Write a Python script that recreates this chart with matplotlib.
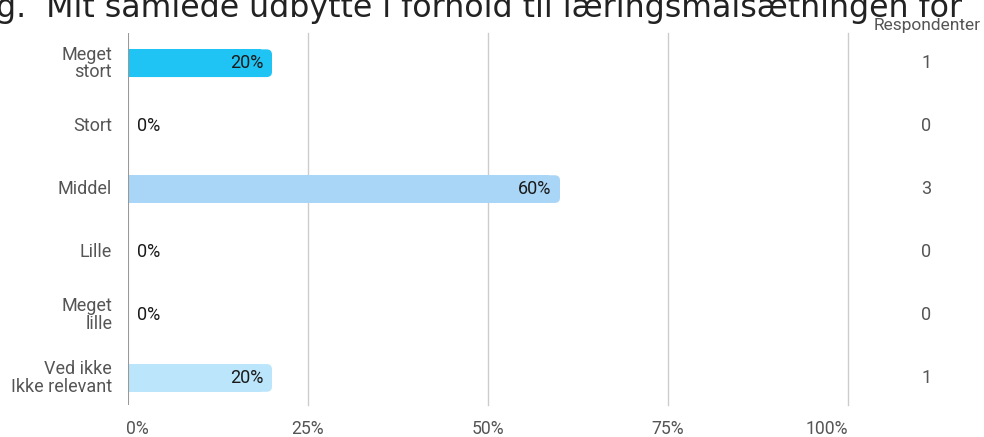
import matplotlib.pyplot as plt
from matplotlib.patches import FancyBboxPatch

categories = ['Meget\nstort', 'Stort', 'Middel', 'Lille', 'Meget\nlille', 'Ved ikke\nIkke relevant']
percent = [20, 0, 60, 0, 0, 20]
respondents = [1, 0, 3, 0, 0, 1]
bar_colors = ['#20c4f4', '#20c4f4', '#a9d5f6', '#a9d5f6', '#a9d5f6', '#bbe5fa']
xticks = [0, 25, 50, 75, 100]
title = 'g.  Mit samlede udbytte i forhold til læringsmålsætningen for'

plt.rcParams['font.family'] = ['Roboto', 'DejaVu Sans']

fig = plt.figure(figsize=(9.84, 4.37), dpi=100)
ax = fig.add_axes([128 / 984, 1 - 405 / 437, 720 / 984, 372 / 437])
ax.set_xlim(0, 100)
ax.set_ylim(5.43, -0.48)

bar_h = 0.44
for i, (p, c) in enumerate(zip(percent, bar_colors)):
    if p > 0:
        # rounded right end + square left part
        rb = FancyBboxPatch((0, i - bar_h / 2), p, bar_h,
                            boxstyle='round,pad=0,rounding_size=0.75',
                            mutation_aspect=0.11, fc=c, ec='none', zorder=2)
        ax.add_patch(rb)
        ax.barh(i, p - 1.5, height=bar_h, left=0, color=c, zorder=2)
        ax.text(p - 1.2, i, f'{p}%', ha='right', va='center', fontsize=13, color='#1a1a1a', zorder=3)
    else:
        ax.text(1.3, i, f'{p}%', ha='left', va='center', fontsize=13, color='#1a1a1a', zorder=3)

for x in xticks[1:]:
    ax.axvline(x, color='#cccccc', lw=1, zorder=1, clip_on=False)
ax.axvline(0, color='#999999', lw=1.5, zorder=4)

for s in ax.spines.values():
    s.set_visible(False)
ax.set_yticks([])
ax.set_xticks([])

# y labels
for i, lab in enumerate(categories):
    ax.text(-2.2, i, lab, ha='right', va='center', fontsize=13, color='#555555',
            linespacing=0.95)

# x labels (Google style alignment)
for x in xticks:
    ha = 'left' if x == 0 else ('right' if x == 100 else 'center')
    ax.text(x - 0.3 if x == 0 else x, 5.81, f'{x}%', ha=ha, va='center', fontsize=12.7, color='#555555')

# respondents column
ax.text(111, -0.6, 'Respondenter', ha='center', va='center', fontsize=12.5, color='#555555')
for i, r in enumerate(respondents):
    ax.text(110.9, i, str(r), ha='center', va='center', fontsize=13, color='#555555')

fig.text(-0.004, 1 - 17 / 437, title, ha='left', va='baseline', fontsize=22.8, color='#222222',
         family='DejaVu Sans')

fig.savefig('out.png', dpi=100)
